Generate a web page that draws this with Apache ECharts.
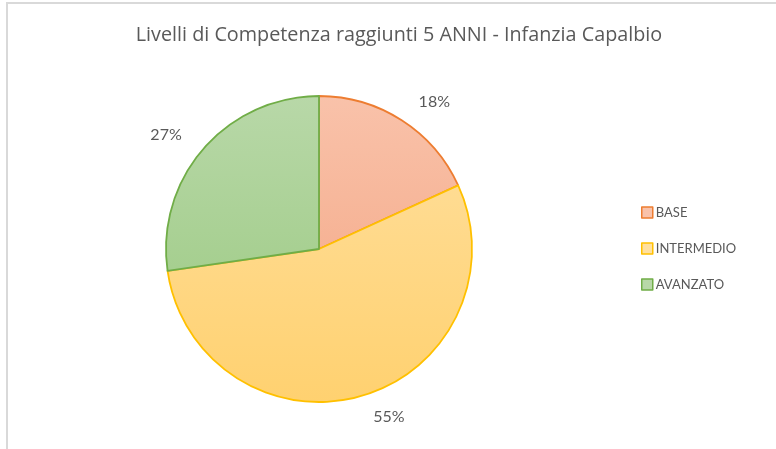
<!DOCTYPE html>
<html><head><meta charset="utf-8">
<script src="https://cdn.jsdelivr.net/npm/echarts@6/dist/echarts.min.js"></script>
<style>
html,body{margin:0;padding:0;background:#fff;}
#frame{position:absolute;left:6px;top:2px;width:780px;height:460px;border-left:2px solid #D9D9D9;border-top:2px solid #D9D9D9;}
#chart{position:absolute;left:0;top:0;width:776px;height:449px;}
</style></head>
<body>
<div id="frame"></div>
<div id="chart"></div>
<script>
const titleText = 'Livelli di Competenza raggiunti 5 ANNI - Infanzia Capalbio';
const categories = ['BASE', 'INTERMEDIO', 'AVANZATO'];
const values = [2, 6, 3];
const borderColors = ['#ED7D31', '#FFC000', '#70AD47'];
const topColors = ['#F9C2AA', '#FFE0A0', '#B8D8A8'];
const bottomColors = ['#F3A37F', '#FFD170', '#98C87D'];

function grad(i){
  return {type:'linear', x:0, y:96, x2:0, y2:402, global:true,
    colorStops:[{offset:0,color:topColors[i]},{offset:1,color:bottomColors[i]}]};
}

const data = categories.map((c,i)=>({name:c, value:values[i],
  itemStyle:{color:grad(i), borderColor:borderColors[i], borderWidth:1.8}}));

const chart = echarts.init(document.getElementById('chart'), null, {renderer:'canvas'});
chart.setOption({
  animation:false,
  title:{text:titleText, left:394, top:20, textAlign:'center',
    textStyle:{fontFamily:'Open Sans', fontWeight:'normal', fontSize:19.8, color:'#595959'}},
  legend:{orient:'vertical', left:641, top:206, padding:0, itemWidth:11, itemHeight:11, itemGap:23,
    icon:'rect',
    textStyle:{fontFamily:'Lato', fontSize:13, color:'#595959', padding:[0,0,0,-2]},
    data:categories.map((c,i)=>({name:c, itemStyle:{color:topColors[i], borderColor:borderColors[i], borderWidth:1.5}}))},
  series:[{type:'pie', center:[319,249], radius:153, startAngle:90, clockwise:true,
    data:data,
    label:{show:true, position:'outside', formatter:p=>Math.round(p.percent)+'%',
      fontFamily:'Lato', fontSize:16, color:'#595959'},
    labelLine:{show:false, length:22, length2:0},
    emphasis:{disabled:true}
  }]
});
</script>
</body></html>
